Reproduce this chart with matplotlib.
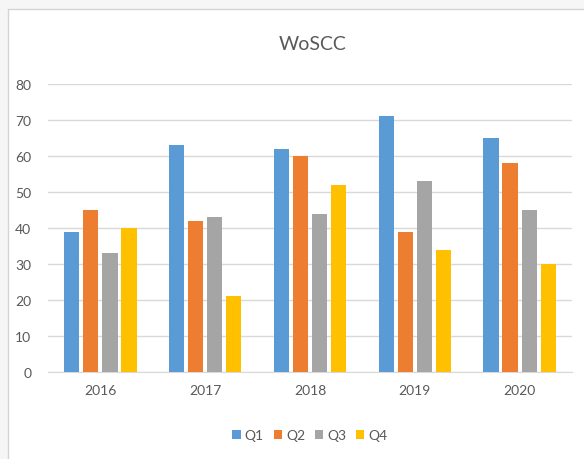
import numpy as np
import matplotlib
matplotlib.use("Agg")
import matplotlib.pyplot as plt
from matplotlib.patches import Rectangle

years = ["2016", "2017", "2018", "2019", "2020"]
series = ["Q1", "Q2", "Q3", "Q4"]
q1 = [39, 63, 62, 71, 65]
q2 = [45, 42, 60, 39, 58]
q3 = [33, 43, 44, 53, 45]
q4 = [40, 21, 52, 34, 30]
colors = ["#5B9BD5", "#ED7D31", "#A5A5A5", "#FFC000"]

plt.rcParams["font.family"] = ["Lato", "DejaVu Sans"]
txt = "#595959"

fig = plt.figure(figsize=(5.84, 4.6), dpi=100, facecolor="#f6f6f6")
# white chart panel with thin border
fig.patches.append(Rectangle((8 / 584, -0.01), 1.0, (450 / 460) + 0.01,
                             transform=fig.transFigure, facecolor="white",
                             edgecolor="#d4d4d4", linewidth=1.0, zorder=-5))

ax = fig.add_axes([48 / 584, 87 / 460, 524 / 584, 288 / 460])
ax.set_zorder(2)
ax.set_facecolor("none")

x = np.arange(len(years))
step = 0.182
width = 0.145
for i, (name, vals) in enumerate(zip(series, [q1, q2, q3, q4])):
    ax.bar(x + (i - 1.5) * step, vals, width, color=colors[i], label=name, zorder=3)

ax.set_ylim(0, 80)
ax.set_xlim(-0.5, len(years) - 0.5)
ax.set_yticks(range(0, 81, 10))
ax.set_xticks(x)
ax.set_xticklabels(years)
ax.grid(axis="y", color="#d9d9d9", linewidth=1.0, zorder=0)
for s in ["top", "right", "left"]:
    ax.spines[s].set_visible(False)
ax.spines["bottom"].set_color("#d9d9d9")
ax.tick_params(axis="both", length=0, colors=txt, labelsize=10)
ax.tick_params(axis="y", pad=12)
ax.tick_params(axis="x", pad=9)

fig.text(0.535, 1 - 45 / 460, "WoSCC", ha="center", va="center", fontsize=14, color=txt)

ax.legend(loc="center", bbox_to_anchor=(0.5, -0.22), ncol=4, frameon=False,
          handlelength=0.6, handleheight=0.6, handletextpad=0.3, columnspacing=0.7,
          fontsize=10, labelcolor=txt)

fig.savefig("out.png", dpi=100, facecolor=fig.get_facecolor())
